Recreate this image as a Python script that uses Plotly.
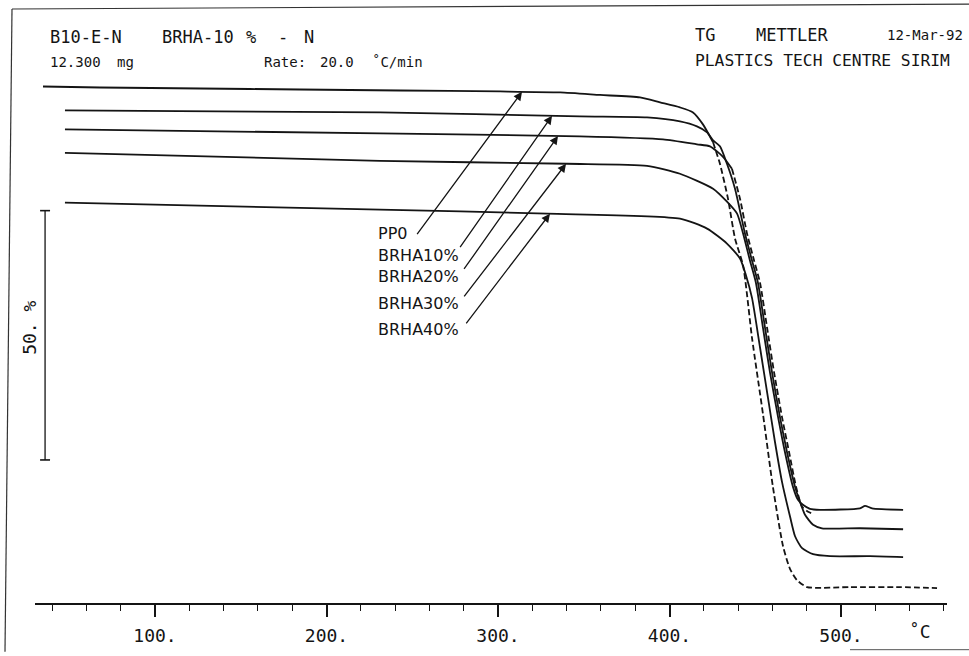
import numpy as np
import plotly.graph_objects as go

# ---------------- data: temperature (°C) and weight (%) ----------------
series_names = ["PP0", "BRHA10%", "BRHA20%", "BRHA30%", "BRHA40%"]

pp0_T = [34.7, 67.9, 126.2, 184.5, 242.9, 301.2, 336.2, 359.5, 382.8, 394.5, 406.1, 413.7,
         419.5, 425.4, 429.4, 434.1, 438.2, 442.9, 448.1, 454.5, 460.3, 466.2, 470.3, 474.3,
         480.2, 505.2, 534.4, 556.0]
pp0_W = [100.6, 100.4, 100.2, 100.0, 99.8, 99.6, 99.4, 98.9, 98.4, 97.4, 96.4, 95.4,
         93.0, 89.4, 85.1, 78.1, 70.1, 64.7, 50.2, 34.9, 20.3, 8.4, 3.8, 1.6,
         0.2, 0.2, 0.2, 0.0]

brha10_T = [47.5, 231.2, 347.8, 386.9, 406.1, 416.0, 421.9, 425.4, 429.4, 433.5, 438.2, 444.0,
            448.1, 451.6, 455.7, 459.8, 464.4, 468.5, 473.2, 476.1, 479.0, 483.7, 488.9, 511.1, 536.2]
brha10_W = [95.8, 95.4, 94.6, 94.4, 93.6, 92.6, 91.4, 89.8, 88.6, 85.1, 80.1, 71.1,
            65.7, 61.2, 52.2, 43.2, 34.3, 27.3, 20.3, 17.3, 14.7, 12.7, 12.0, 12.0, 11.8]

brha20_T = [47.5, 231.2, 347.8, 396.2, 416.0, 423.6, 431.2, 436.4, 441.1, 445.2, 449.3, 452.8,
            456.9, 461.0, 465.6, 469.7, 473.8, 477.3, 480.8, 483.7]
brha20_W = [92.0, 91.2, 90.6, 90.0, 89.0, 88.6, 86.5, 84.1, 78.1, 71.1, 65.7, 61.2,
            52.2, 43.2, 34.3, 27.3, 20.3, 16.3, 15.3, 14.9]

brha30_T = [47.5, 231.2, 340.2, 386.9, 406.1, 425.4, 433.5, 439.4, 442.9, 446.9, 450.4, 454.5,
            458.6, 463.3, 467.3, 472.0, 474.9, 477.8, 481.9, 487.8, 511.1, 514.0, 518.1, 536.2]
brha30_W = [87.3, 85.7, 85.1, 84.7, 83.1, 80.1, 77.5, 75.1, 71.1, 65.7, 61.2, 52.2,
            43.2, 34.3, 27.3, 20.3, 17.7, 16.7, 15.9, 15.7, 16.0, 16.5, 16.0, 15.7]

brha40_T = [47.5, 231.2, 328.6, 406.1, 421.9, 433.5, 441.1, 444.6, 448.1, 452.8, 457.4, 461.5,
            465.6, 470.3, 473.2, 477.3, 483.7, 493.6, 516.9, 536.2]
brha40_W = [77.3, 75.9, 75.1, 74.1, 72.1, 69.1, 66.1, 62.7, 58.2, 48.2, 38.2, 29.3,
            21.3, 14.3, 10.4, 8.0, 6.8, 6.4, 6.4, 6.2]

series_T = [pp0_T, brha10_T, brha20_T, brha30_T, brha40_T]
series_W = [pp0_W, brha10_W, brha20_W, brha30_W, brha40_W]

# temperature at which each arrow meets its curve
arrow_head_T = [314.0, 331.5, 335.0, 339.7, 330.3]

x_major_ticks = [100, 200, 300, 400, 500]
x_tick_labels = ["100.", "200.", "300.", "400.", "500."]
x_unit = "˚C"
scale_bar_low = 25.7
scale_bar_span = 50.0
scale_bar_label = "50. %"

header_left_1 = ["B10-E-N", "BRHA-10", "%", "-", "N"]
header_left_2 = ["12.300", "mg", "Rate:", "20.0", "˚C/min"]
header_right_1 = ["TG", "METTLER", "12-Mar-92"]
header_right_2 = ["PLASTICS TECH CENTRE SIRIM"]

# ---------------- layout / style ----------------
W, H = 969, 656
L, R, T, B = 35, 22, 10, 49
PW, PH = W - L - R, H - T - B
X_RANGE = [30.03, 561.8]
Y_RANGE = [-2.99, 115.94]
MONO = "DejaVu Sans Mono"
SANS = "DejaVu Sans"
INK = "#141414"

dash_from = {"PP0": 425.4, "BRHA20%": 436.4}


def px_x(px):
    return (px - L) / PW


def px_y(py):
    return (H - B - py) / PH


fig = go.Figure()

for name, tx, wy in zip(series_names, series_T, series_W):
    tx = np.asarray(tx)
    wy = np.asarray(wy)
    if name in dash_from:
        s = dash_from[name]
        m1 = tx <= s
        m2 = tx >= s
        fig.add_trace(go.Scatter(x=tx[m1], y=wy[m1], mode="lines",
                                 line=dict(color=INK, width=1.8, shape="spline", smoothing=0.6),
                                 name=name, showlegend=False))
        fig.add_trace(go.Scatter(x=tx[m2], y=wy[m2], mode="lines",
                                 line=dict(color=INK, width=1.8, dash="6px,3px",
                                           shape="spline", smoothing=0.6),
                                 name=name, showlegend=False))
    else:
        fig.add_trace(go.Scatter(x=tx, y=wy, mode="lines",
                                 line=dict(color=INK, width=1.8, shape="spline", smoothing=0.6),
                                 name=name, showlegend=False))

annotations = []

# curve labels + arrows
label_left_T = 228.9
label_W = [71.1, 66.7, 62.5, 57.0, 51.8]
tail_T = [252.2, 277.3, 279.6, 279.6, 280.8]
tail_W = [70.7, 68.1, 63.7, 58.2, 52.8]
for name, tx, wy, hT, lw, tt, tw in zip(series_names, series_T, series_W, arrow_head_T,
                                         label_W, tail_T, tail_W):
    hW = float(np.interp(hT, tx, wy))
    annotations.append(dict(x=label_left_T, y=lw, xref="x", yref="y", text=name,
                            showarrow=False, xanchor="left", yanchor="middle",
                            font=dict(family=SANS, size=16, color=INK)))
    annotations.append(dict(x=hT, y=hW, xref="x", yref="y", ax=tt, ay=tw,
                            axref="x", ayref="y", text="", showarrow=True,
                            arrowhead=2, arrowsize=1.3, arrowwidth=1.3,
                            arrowcolor=INK, standoff=0, startstandoff=0))

# header texts (positioned per word to mimic the wide plotter lettering)
hl1_x = [48, 160, 244, 276, 302]
for t, x in zip(header_left_1, hl1_x):
    annotations.append(dict(x=px_x(x), y=px_y(37), xref="paper", yref="paper", text=t,
                            showarrow=False, xanchor="left", yanchor="middle",
                            font=dict(family=MONO, size=17, color=INK)))
hl2_x = [48, 115, 262, 318, 370]
for t, x in zip(header_left_2, hl2_x):
    annotations.append(dict(x=px_x(x), y=px_y(62), xref="paper", yref="paper", text=t,
                            showarrow=False, xanchor="left", yanchor="middle",
                            font=dict(family=MONO, size=14, color=INK)))
hr1_x = [693, 754, 885]
hr1_s = [17, 17, 14]
for t, x, s in zip(header_right_1, hr1_x, hr1_s):
    annotations.append(dict(x=px_x(x), y=px_y(35), xref="paper", yref="paper", text=t,
                            showarrow=False, xanchor="left", yanchor="middle",
                            font=dict(family=MONO, size=s, color=INK)))
for t in header_right_2:
    annotations.append(dict(x=px_x(693), y=px_y(61), xref="paper", yref="paper", text=t,
                            showarrow=False, xanchor="left", yanchor="middle",
                            font=dict(family=MONO, size=16.3, color=INK)))

# axis unit and scale bar label
annotations.append(dict(x=px_x(920), y=px_y(636), xref="paper", yref="paper", text=x_unit,
                        showarrow=False, xanchor="center", yanchor="middle",
                        font=dict(family=MONO, size=18, color=INK)))
annotations.append(dict(x=px_x(30), y=px_y(330), xref="paper", yref="paper",
                        text=scale_bar_label, textangle=-90, showarrow=False,
                        xanchor="center", yanchor="middle",
                        font=dict(family=MONO, size=18, color=INK)))

# scale bar shapes
bar_T = 35.9
cap = 2.9
shapes = [
    dict(type="line", xref="x", yref="y", x0=bar_T, x1=bar_T,
         y0=scale_bar_low, y1=scale_bar_low + scale_bar_span,
         line=dict(color=INK, width=1.3)),
    dict(type="line", xref="x", yref="y", x0=bar_T - cap, x1=bar_T + cap,
         y0=scale_bar_low, y1=scale_bar_low, line=dict(color=INK, width=1.6)),
    dict(type="line", xref="x", yref="y", x0=bar_T - cap, x1=bar_T + cap,
         y0=scale_bar_low + scale_bar_span, y1=scale_bar_low + scale_bar_span,
         line=dict(color=INK, width=1.6)),
    # page frame (scanned, slightly skewed)
    dict(type="line", xref="paper", yref="paper", x0=px_x(12), y0=px_y(9),
         x1=px_x(5), y1=px_y(656), line=dict(color="#333", width=1.2)),
    dict(type="line", xref="paper", yref="paper", x0=px_x(12), y0=px_y(9),
         x1=px_x(969), y1=px_y(4), line=dict(color="#333", width=1.2)),
    dict(type="line", xref="paper", yref="paper", x0=px_x(850), y0=px_y(654),
         x1=px_x(969), y1=px_y(654), line=dict(color="#555", width=1)),
]

minor_vals = [v for v in range(40, 562, 20) if v % 100 != 0]

fig.update_layout(
    width=W, height=H,
    margin=dict(l=L, r=R, t=T, b=B, pad=0),
    paper_bgcolor="white", plot_bgcolor="white",
    showlegend=False,
    annotations=annotations,
    shapes=shapes,
    xaxis=dict(range=X_RANGE, showgrid=False, zeroline=False, showline=True,
               linecolor=INK, linewidth=1.6, ticks="outside", ticklen=12,
               tickwidth=1.5, tickcolor=INK, tickmode="array",
               tickvals=x_major_ticks, ticktext=x_tick_labels,
               tickfont=dict(family=MONO, size=18, color=INK),
               ticklabelstandoff=4,
               minor=dict(tickmode="array", tickvals=minor_vals, ticks="outside",
                          ticklen=6, tickwidth=1.3, tickcolor=INK, showgrid=False),
               fixedrange=True),
    yaxis=dict(range=Y_RANGE, visible=False, fixedrange=True),
)

fig.write_html(
    "out.html",
    config={"displayModeBar": False},
    post_script="document.body.style.margin='0';document.body.style.overflow='hidden';",
)
